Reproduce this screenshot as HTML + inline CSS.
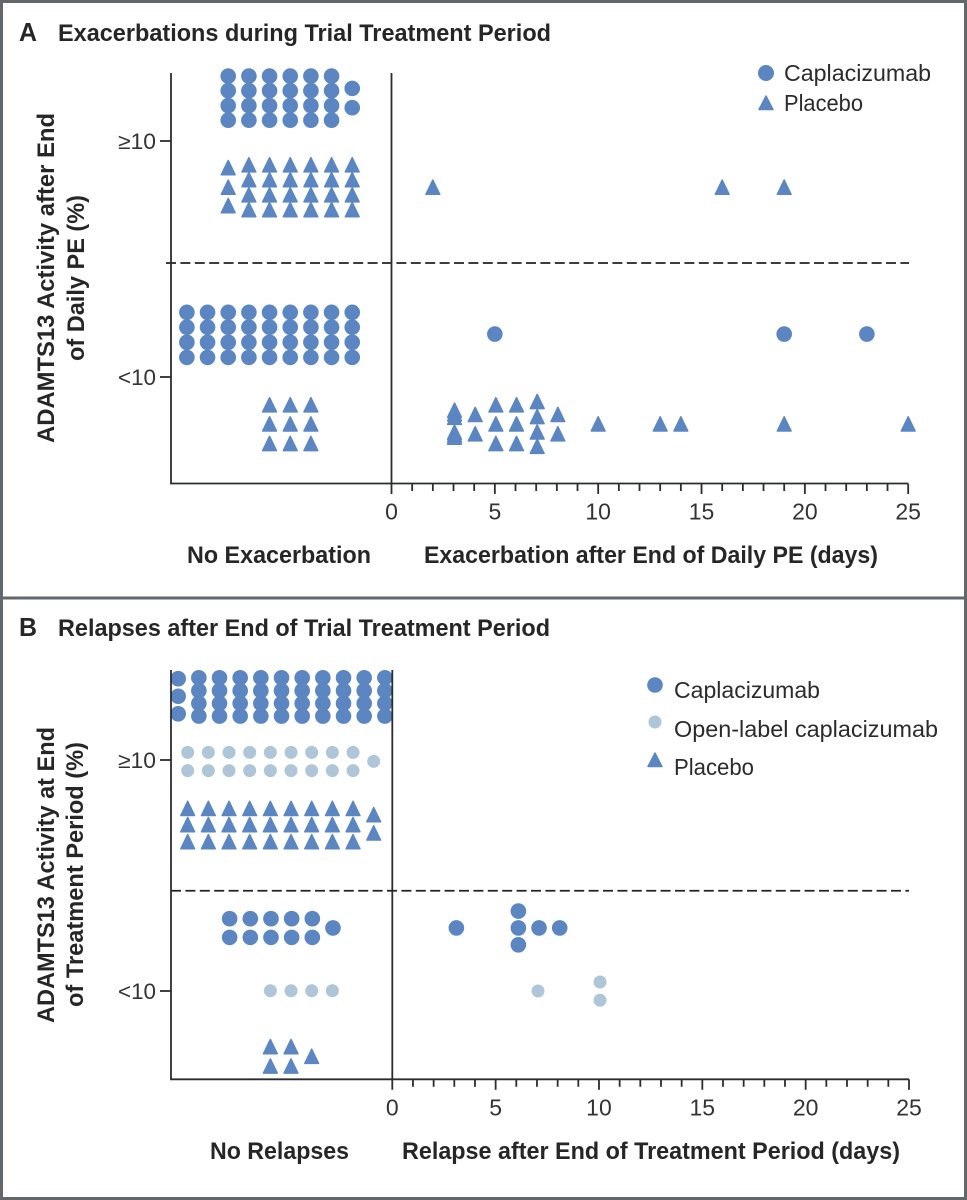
<!DOCTYPE html>
<html lang="en">
<head>
<meta charset="utf-8">
<title>Exacerbations and Relapses by ADAMTS13 Activity</title>
<style>
html,body{margin:0;padding:0;background:#fff;}
svg{display:block;}
text{font-family:"Liberation Sans",sans-serif;fill:#262626;}
.h{font-weight:bold;font-size:24.5px;}
.p{font-weight:bold;font-size:26px;}
.ytick{font-size:22px;fill:#333;}
.xtick{font-size:23px;fill:#333;}
.lg{font-size:23.5px;fill:#2b2b2b;}
</style>
</head>
<body>
<svg id="figure" xmlns="http://www.w3.org/2000/svg" width="967" height="1200" viewBox="0 0 967 1200">
  <rect x="1.5" y="1.5" width="964" height="1197" fill="#fff" stroke="#62676b" stroke-width="3"/>
  <line x1="0" x2="967" y1="598" y2="598" stroke="#62676b" stroke-width="3"/>

  <text class="p" x="19" y="41" textLength="18" lengthAdjust="spacingAndGlyphs">A</text>
  <text class="h" x="58" y="41" textLength="493" lengthAdjust="spacingAndGlyphs">Exacerbations during Trial Treatment Period</text>
  <text class="h" transform="translate(54,443) rotate(-90)" textLength="330" lengthAdjust="spacingAndGlyphs">ADAMTS13 Activity after End</text>
  <text class="h" transform="translate(84,361) rotate(-90)" textLength="166" lengthAdjust="spacingAndGlyphs">of Daily PE (%)</text>
  <text class="h" x="187" y="563" textLength="184" lengthAdjust="spacingAndGlyphs">No Exacerbation</text>
  <text class="h" x="424" y="563" textLength="454" lengthAdjust="spacingAndGlyphs">Exacerbation after End of Daily PE (days)</text>
  <text class="lg" x="784" y="81" textLength="147" lengthAdjust="spacingAndGlyphs">Caplacizumab</text>
  <text class="lg" x="784" y="111" textLength="79" lengthAdjust="spacingAndGlyphs">Placebo</text>
  <circle cx="766" cy="73" r="8" fill="#5b86c2"/>
  <polygon points="766,96 773,109.5 759,109.5" fill="#5b86c2" stroke="#5b86c2" stroke-width="1.4" stroke-linejoin="round"/>

  <text class="p" x="19" y="636" textLength="18" lengthAdjust="spacingAndGlyphs">B</text>
  <text class="h" x="58" y="636" textLength="492" lengthAdjust="spacingAndGlyphs">Relapses after End of Trial Treatment Period</text>
  <text class="h" transform="translate(54,1023) rotate(-90)" textLength="296" lengthAdjust="spacingAndGlyphs">ADAMTS13 Activity at End</text>
  <text class="h" transform="translate(83,1007) rotate(-90)" textLength="265" lengthAdjust="spacingAndGlyphs">of Treatment Period (%)</text>
  <text class="h" x="210" y="1159" textLength="139" lengthAdjust="spacingAndGlyphs">No Relapses</text>
  <text class="h" x="402" y="1159" textLength="498" lengthAdjust="spacingAndGlyphs">Relapse after End of Treatment Period (days)</text>
  <text class="lg" x="674" y="698" textLength="146" lengthAdjust="spacingAndGlyphs">Caplacizumab</text>
  <text class="lg" x="674" y="737" textLength="264" lengthAdjust="spacingAndGlyphs">Open-label caplacizumab</text>
  <text class="lg" x="674" y="775" textLength="80" lengthAdjust="spacingAndGlyphs">Placebo</text>
  <circle cx="655" cy="685" r="7.8" fill="#5b86c2"/>
  <circle cx="655" cy="722" r="6.5" fill="#afc6d8"/>
  <polygon points="655,753 662,766.5 648,766.5" fill="#5b86c2" stroke="#5b86c2" stroke-width="1.4" stroke-linejoin="round"/>

  <g id="plot-a"></g>
  <g id="plot-b"></g>
</svg>
<script>
// Shared tick values and labels
const xTicks = [0,1,2,3,4,5,6,7,8,9,10,11,12,13,14,15,16,17,18,19,20,21,22,23,24,25];
const xLabelTicks = [0,5,10,15,20,25];
const yTickValues = [15,5];
const yTickLabels = ['\u226510','<10'];

// Panel A: days (negative = "No Exacerbation" stacks) and activity level
const aCapX = [
 -7.9,-7.9,-7.9,-7.9,-6.9,-6.9,-6.9,-6.9,-5.9,-5.9,-5.9,-5.9,-4.9,-4.9,-4.9,-4.9,-3.9,-3.9,-3.9,-3.9,-2.9,-2.9,-2.9,-2.9,-1.9,-1.9,
 -9.9,-9.9,-9.9,-9.9,-8.9,-8.9,-8.9,-8.9,-7.9,-7.9,-7.9,-7.9,-6.9,-6.9,-6.9,-6.9,-5.9,-5.9,-5.9,-5.9,-4.9,-4.9,-4.9,-4.9,-3.9,-3.9,-3.9,-3.9,-2.9,-2.9,-2.9,-2.9,-1.9,-1.9,-1.9,-1.9,
 5,19,23];
const aCapY = [
 17.75,17.13,16.5,15.88,17.75,17.13,16.5,15.88,17.75,17.13,16.5,15.88,17.75,17.13,16.5,15.88,17.75,17.13,16.5,15.88,17.75,17.13,16.5,15.88,17.23,16.41,
 7.74,7.11,6.47,5.83,7.74,7.11,6.47,5.83,7.74,7.11,6.47,5.83,7.74,7.11,6.47,5.83,7.74,7.11,6.47,5.83,7.74,7.11,6.47,5.83,7.74,7.11,6.47,5.83,7.74,7.11,6.47,5.83,7.74,7.11,6.47,5.83,
 6.82,6.82,6.82];
const aPlaceboX = [
 -7.9,-7.9,-7.9,
 -6.9,-6.9,-6.9,-6.9,-5.9,-5.9,-5.9,-5.9,-4.9,-4.9,-4.9,-4.9,-3.9,-3.9,-3.9,-3.9,-2.9,-2.9,-2.9,-2.9,-1.9,-1.9,-1.9,-1.9,
 2,16,19,
 -5.9,-5.9,-5.9,-4.9,-4.9,-4.9,-3.9,-3.9,-3.9,
 3.05,3.05,3.05,3.05,3.05,3.05,
 4.05,4.05,
 5.05,5.05,5.05,
 6.05,6.05,6.05,
 7.05,7.05,7.05,7.05,
 8.05,8.05,
 10,13,14,19,25];
const aPlaceboY = [
 13.86,13.03,12.25,
 13.98,13.35,12.71,12.08,13.98,13.35,12.71,12.08,13.98,13.35,12.71,12.08,13.98,13.35,12.71,12.08,13.98,13.35,12.71,12.08,13.98,13.35,12.71,12.08,
 13.03,13.03,13.03,
 3.81,3,2.17,3.81,3,2.17,3.81,3,2.17,
 3.58,3.43,3.28,2.65,2.54,2.44,
 3.4,2.58,
 3.81,3,2.17,
 3.81,3,2.17,
 3.95,3.31,2.66,2.05,
 3.4,2.58,
 3,3,3,3,3];
const aThreshold = [9.83];

// Panel B
const bCapX = [
 -10.36,-10.36,-10.36,
 -9.36,-9.36,-9.36,-9.36,-8.36,-8.36,-8.36,-8.36,-7.36,-7.36,-7.36,-7.36,-6.36,-6.36,-6.36,-6.36,-5.36,-5.36,-5.36,-5.36,
 -4.36,-4.36,-4.36,-4.36,-3.36,-3.36,-3.36,-3.36,-2.36,-2.36,-2.36,-2.36,-1.36,-1.36,-1.36,-1.36,-0.36,-0.36,-0.36,-0.36,
 -7.87,-7.87,-6.87,-6.87,-5.87,-5.87,-4.87,-4.87,-3.87,-3.87,-2.87,
 3.1,6.1,6.1,6.1,7.1,8.1];
const bCapY = [
 18.52,17.76,17,
 18.56,18,17.45,16.9,18.56,18,17.45,16.9,18.56,18,17.45,16.9,18.56,18,17.45,16.9,18.56,18,17.45,16.9,
 18.56,18,17.45,16.9,18.56,18,17.45,16.9,18.56,18,17.45,16.9,18.56,18,17.45,16.9,18.56,18,17.45,16.9,
 8.13,7.32,8.13,7.32,8.13,7.32,8.13,7.32,8.13,7.32,7.73,
 7.73,8.46,7.73,7,7.73,7.73];
const bOpenX = [
 -9.9,-9.9,-8.9,-8.9,-7.9,-7.9,-6.9,-6.9,-5.9,-5.9,-4.9,-4.9,-3.9,-3.9,-2.9,-2.9,-1.9,-1.9,-0.9,
 -5.9,-4.9,-3.9,-2.9,
 7.05,10.05,10.05];
const bOpenY = [
 15.33,14.54,15.33,14.54,15.33,14.54,15.33,14.54,15.33,14.54,15.33,14.54,15.33,14.54,15.33,14.54,15.33,14.54,14.94,
 5.01,5.01,5.01,5.01,
 5,5.39,4.6];
const bPlaceboX = [
 -9.9,-9.9,-9.9,-8.9,-8.9,-8.9,-7.9,-7.9,-7.9,-6.9,-6.9,-6.9,-5.9,-5.9,-5.9,-4.9,-4.9,-4.9,-3.9,-3.9,-3.9,-2.9,-2.9,-2.9,-1.9,-1.9,-1.9,
 -0.9,-0.9,
 -5.9,-5.9,-4.9,-4.9,-3.9];
const bPlaceboY = [
 12.89,12.19,11.45,12.89,12.19,11.45,12.89,12.19,11.45,12.89,12.19,11.45,12.89,12.19,11.45,12.89,12.19,11.45,12.89,12.19,11.45,12.89,12.19,11.45,12.89,12.19,11.45,
 12.62,11.83,
 2.58,1.74,2.58,1.74,2.16];
const bThreshold = [9.34];

const NS = 'http://www.w3.org/2000/svg';
const BLUE = '#5b86c2';
const PALE = '#afc6d8';
const INK = '#2a2c2e';

function scaleLinear(d0, d1, r0, r1) {
  return function (v) { return r0 + (v - d0) * (r1 - r0) / (d1 - d0); };
}

function make(parent, tag, attrs) {
  const el = document.createElementNS(NS, tag);
  Object.keys(attrs).forEach(function (k) { el.setAttribute(k, attrs[k]); });
  parent.appendChild(el);
  return el;
}

function drawLine(parent, name, x1, y1, x2, y2, extra) {
  const el = make(parent, 'line', Object.assign({x1: x1, y1: y1, x2: x2, y2: y2, stroke: INK, 'stroke-width': 1.8}, extra || {}));
  
  
  return el;
}

function drawCircles(parent, name, xs, ys, sx, sy, r, fill) {
  xs.forEach(function (v, i) {
    const el = make(parent, 'circle', {cx: sx(v), cy: sy(ys[i]), r: r, fill: fill});
    
    
  });
}

function drawTriangles(parent, name, xs, ys, sx, sy, fill) {
  xs.forEach(function (v, i) {
    const cx = sx(v), cy = sy(ys[i]);
    const pts = cx + ',' + (cy - 7.4) + ' ' + (cx + 6.9) + ',' + (cy + 6.8) + ' ' + (cx - 6.9) + ',' + (cy + 6.8);
    const el = make(parent, 'polygon', {points: pts, fill: fill, stroke: fill, 'stroke-width': 1.5, 'stroke-linejoin': 'round'});
    
    
  });
}

function drawAxes(parent, cfg) {
  const sx = cfg.sx, sy = cfg.sy;
  drawLine(parent, 'threshold-line', cfg.dashStart, sy(cfg.threshold[0]), cfg.dashEnd, sy(cfg.threshold[0]), {'stroke-dasharray': '10 4.4', 'stroke-width': 1.7, stroke: '#222'});
  drawLine(parent, 'y-axis-left', 171, cfg.top, 171, cfg.bottom);
  drawLine(parent, 'zero-line', sx(0), cfg.top, sx(0), cfg.bottom + 10.5);
  drawLine(parent, 'x-axis', 170.1, cfg.bottom, sx(25), cfg.bottom);
  xTicks.forEach(function (t) {
    const major = xLabelTicks.indexOf(t) >= 0;
    if (t !== 0) drawLine(parent, 'x-tick', sx(t), cfg.bottom, sx(t), cfg.bottom + (major ? 10.5 : 7.5));
  });
  xLabelTicks.forEach(function (t) {
    const el = make(parent, 'text', {x: sx(t), y: cfg.bottom + 36, 'text-anchor': 'middle', class: 'xtick'});
    el.textContent = String(t);
    
    
  });
  yTickValues.forEach(function (v, i) {
    drawLine(parent, 'y-tick', 160, sy(v), 171, sy(v));
    const el = make(parent, 'text', {x: 118, y: sy(v) + 8, class: 'ytick', textLength: 38, lengthAdjust: 'spacingAndGlyphs'});
    el.textContent = yTickLabels[i];
    
    
  });
}

// Panel A
const plotA = document.getElementById('plot-a');
const xA = scaleLinear(0, 25, 391.5, 908.2);
const yA = scaleLinear(5, 15, 377, 141);
drawCircles(plotA, 'caplacizumab-point', aCapX, aCapY, xA, yA, 7.8, BLUE);
drawTriangles(plotA, 'placebo-point', aPlaceboX, aPlaceboY, xA, yA, BLUE);
drawAxes(plotA, {sx: xA, sy: yA, top: 73, bottom: 483.5, threshold: aThreshold, dashStart: 166, dashEnd: 909});

// Panel B
const plotB = document.getElementById('plot-b');
const xB = scaleLinear(0, 25, 392.3, 909);
const yB = scaleLinear(5, 15, 991, 760);
drawCircles(plotB, 'caplacizumab-point', bCapX, bCapY, xB, yB, 7.8, BLUE);
drawCircles(plotB, 'open-label-caplacizumab-point', bOpenX, bOpenY, xB, yB, 6.5, PALE);
drawTriangles(plotB, 'placebo-point', bPlaceboX, bPlaceboY, xB, yB, BLUE);
drawAxes(plotB, {sx: xB, sy: yB, top: 670, bottom: 1079.3, threshold: bThreshold, dashStart: 171, dashEnd: 909});
</script>
</body>
</html>
